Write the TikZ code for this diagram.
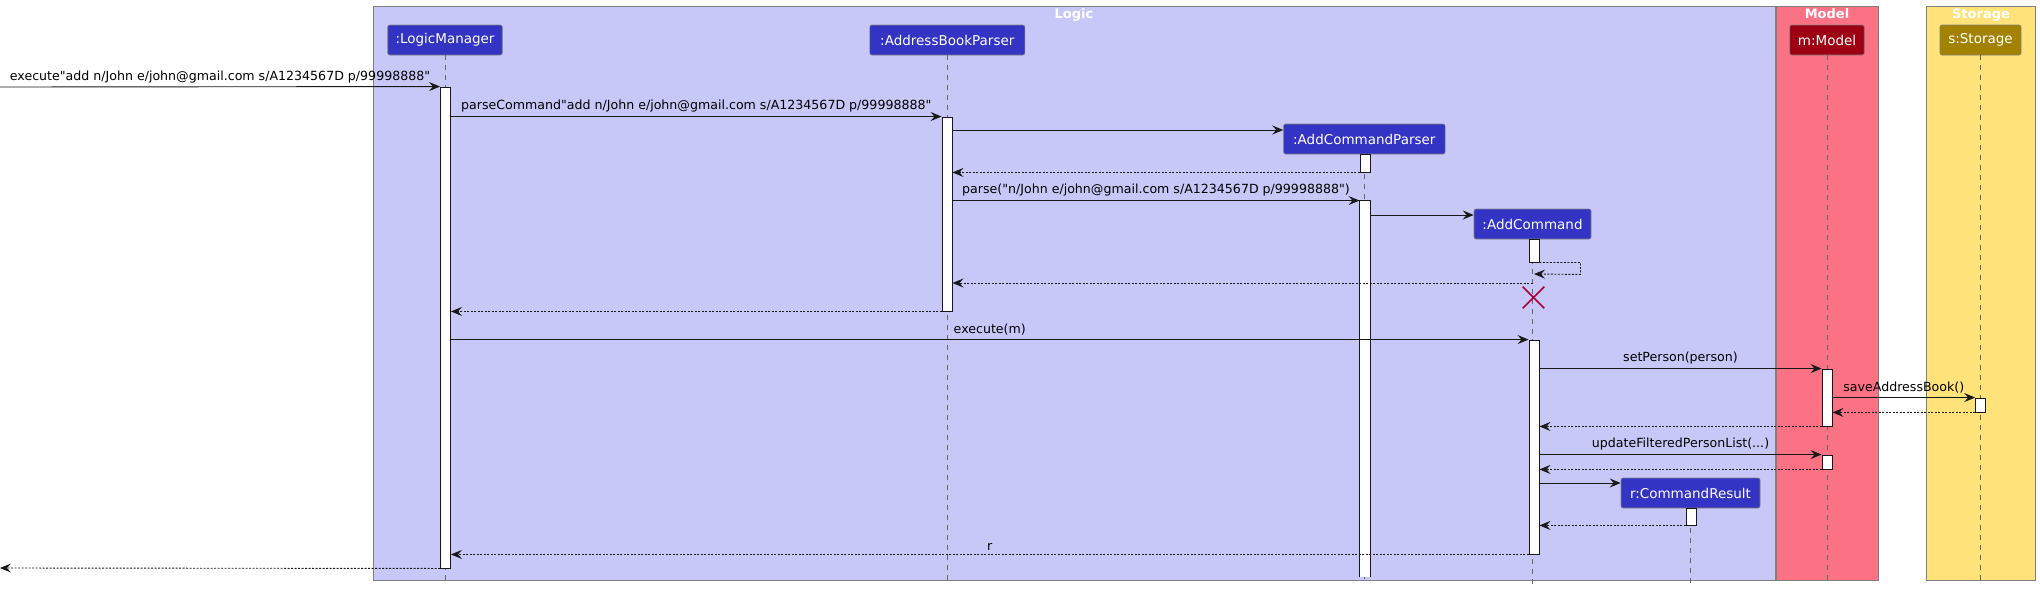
\documentclass[tikz,border=0pt]{standalone}
\usepackage{fontspec}
\setmainfont{DejaVu Sans}[Ligatures=TeXOff]
\usetikzlibrary{arrows.meta, shapes.misc}

\definecolor{logicbg}{HTML}{C8C8F8}
\definecolor{modelbg}{HTML}{FA7283}
\definecolor{storebg}{HTML}{FFE27A}
\definecolor{logicbox}{HTML}{3333C4}
\definecolor{modelbox}{HTML}{9D0012}
\definecolor{storebox}{HTML}{A38200}
\definecolor{killred}{HTML}{A80036}

\begin{document}
\begin{tikzpicture}[
    x=1pt, y=-1pt,
    group/.style={draw=black!50, line width=0.8pt},
    grouptitle/.style={text=white, anchor=base, font=\bfseries\fontsize{13}{15}\selectfont},
    part/.style={draw=black!50, line width=0.6pt, rounded corners=2pt, text=white,
                 minimum height=30pt, inner sep=0pt, font=\fontsize{13.5}{16}\selectfont},
    life/.style={draw=black!60, line width=0.8pt, dash pattern=on 5pt off 5pt},
    act/.style={draw=black!90, fill=white, line width=0.9pt, minimum width=10pt, inner sep=0pt},
    msg/.style={-{Stealth[length=11pt, width=9pt, inset=4pt]}, line width=0.9pt, black!90},
    ret/.style={msg, dash pattern=on 2pt off 1.5pt},
    note/.style={font=\fontsize{12.6}{15}\selectfont, inner sep=2pt, yshift=1.5pt, text=black},
    kill/.style={cross out, draw=killred, line width=1.6pt, minimum size=20pt, inner sep=0pt},
]
    \useasboundingbox (0,0) rectangle (2040,592);

    % boxes
    \draw[group, fill=logicbg] (373,6) rectangle (1775,580);
    \draw[group, fill=modelbg] (1776,6) rectangle (1878,580);
    \draw[group, fill=storebg] (1926.5,6) rectangle (2035.5,580);
    \node[grouptitle] (logicT) at (1074,18) {Logic};
    \node[grouptitle] (modelT) at (1827,18) {Model};
    \node[grouptitle] (storeT) at (1981,18) {Storage};

    % participants
    \node[part, fill=logicbox, minimum width=114.5pt] (lm) at (445,40) {:LogicManager};
    \node[part, fill=logicbox, minimum width=155pt] (abp) at (947.3,40) {:AddressBookParser};
    \node[part, fill=logicbox, minimum width=161.5pt] (acp) at (1364.3,139) {:AddCommandParser};
    \node[part, fill=logicbox, minimum width=117pt] (ac) at (1532.5,224) {:AddCommand};
    \node[part, fill=logicbox, minimum width=139pt] (cr) at (1690.5,493) {r:CommandResult};
    \node[part, fill=modelbox, minimum width=74.5pt] (mdl) at (1827,40) {m:Model};
    \node[part, fill=storebox, minimum width=81pt] (sto) at (1980.5,40) {s:Storage};

    % lifelines
    \foreach \p in {lm, abp, acp, ac, cr, mdl, sto}
        \draw[life] (\p.south) -- (\p.south |- 0,584);

    % activations
    \node[act, minimum height=481pt] (lmA) at (445.5,327.5) {};
    \node[act, minimum height=194pt] (abpA) at (947,214) {};
    \node[act, minimum height=18pt] (acpA) at (1365,163) {};
    \node[act, minimum height=376pt, draw=none] (acpB) at (1365,389) {};
    \draw[line width=0.9pt, black!90] (acpB.south west) -- (acpB.north west)
        -- (acpB.north east) -- (acpB.south east);
    \node[act, minimum height=23pt] (acA) at (1534,250.5) {};
    \node[act, minimum height=214pt] (acB) at (1534,447) {};
    \node[act, minimum height=57pt] (mA) at (1827,397.5) {};
    \node[act, minimum height=14pt] (mB) at (1827,462) {};
    \node[act, minimum height=14pt] (sA) at (1980.6,405) {};
    \node[act, minimum height=17pt] (crA) at (1691,516.5) {};

    % messages
    \coordinate (extIn) at (0,87);
    \coordinate (extOut) at (0,568);
    \draw[msg] (extIn) -- node[note, above]
        {execute"add n/John e/john@gmail.com s/A1234567D p/99998888"} (lmA.north west);
    \draw[msg] (lmA.east |- abpA.north) -- node[note, above]
        {parseCommand"add n/John e/john@gmail.com s/A1234567D p/99998888"} (abpA.north west);
    \draw[msg] (abpA.east |- 0,130) -- (acp.west |- 0,130);
    \draw[ret] (acpA.south west) -- (abpA.east |- acpA.south);
    \draw[msg] (abpA.east |- acpB.north) -- node[note, above]
        {parse("n/John e/john@gmail.com s/A1234567D p/99998888")} (acpB.north west);
    \draw[msg] (acpB.east |- 0,215) -- (ac.west |- 0,215);
    \draw[ret] (acA.south east) -- ++(41,0) -- ++(0,12) -- (acA.south |- 0,274);
    \draw[ret] (ac.south |- 0,283) -- (abpA.east |- 0,283);
    \node[kill] (acX) at (1533.5,297.5) {};
    \draw[ret] (abpA.south west) -- (lmA.east |- abpA.south);
    \draw[msg] (lmA.east |- acB.north) -- node[note, above] {execute(m)} (acB.north west);
    \draw[msg] (acB.east |- mA.north) -- node[note, above] {setPerson(person)} (mA.north west);
    \draw[msg] (mA.east |- sA.north) -- node[note, above] {saveAddressBook()} (sA.north west);
    \draw[ret] (sA.south west) -- (mA.east |- sA.south);
    \draw[ret] (mA.south west) -- (acB.east |- mA.south);
    \draw[msg] (acB.east |- mB.north) -- node[note, above] {updateFilteredPersonList(...)} (mB.north west);
    \draw[ret] (mB.south west) -- (acB.east |- mB.south);
    \draw[msg] (acB.east |- 0,483) -- (cr.west |- 0,483);
    \draw[ret] (crA.south west) -- (acB.east |- crA.south);
    \draw[ret] (acB.south west) -- node[note, above] {r} (lmA.east |- acB.south);
    \draw[ret] (lmA.south west) -- (extOut);

\end{tikzpicture}
\end{document}
